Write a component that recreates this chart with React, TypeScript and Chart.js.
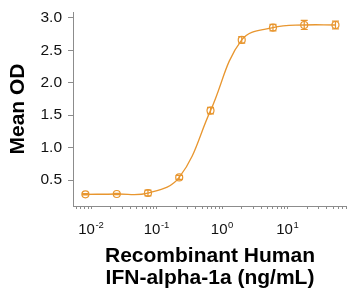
import React, { useEffect, useRef } from 'react';
import { Chart, registerables } from 'chart.js';
Chart.register(...registerables);

const doses = [0.0082, 0.0247, 0.074, 0.222, 0.667, 2, 6, 18, 54];
const meanOD = [0.28, 0.285, 0.30, 0.54, 1.57, 2.66, 2.85, 2.89, 2.89];
const errOD = [0.01, 0.01, 0.045, 0.03, 0.05, 0.05, 0.05, 0.07, 0.06];
const yTicks = [0.5, 1.0, 1.5, 2.0, 2.5, 3.0];
const xMajor = [0.01, 0.1, 1, 10];
const xMajorBase = '10';
const xMajorExp = ['-2', '-1', '0', '1'];
const xDecades = [0.001, 0.01, 0.1, 1, 10];
const xMultiples = [1, 2, 3, 4, 5, 6, 7, 8, 9];

const COLOR = '#E8962F';
const X_MIN = 0.0053;
const X_MAX = 81;
const FONT = 'Liberation Sans';

const errorBarPlugin = {
  id: 'errorBars',
  afterDatasetsDraw(chart: any) {
    const xs = chart.scales.x;
    const ys = chart.scales.y;
    const ctx = chart.ctx;
    ctx.save();
    ctx.strokeStyle = COLOR;
    ctx.lineWidth = 1.2;
    doses.forEach((d, i) => {
      const x = xs.getPixelForValue(d);
      const yt = ys.getPixelForValue(meanOD[i] + errOD[i]);
      const yb = ys.getPixelForValue(meanOD[i] - errOD[i]);
      ctx.beginPath();
      ctx.moveTo(x, yt);
      ctx.lineTo(x, yb);
      ctx.moveTo(x - 3.5, yt);
      ctx.lineTo(x + 3.5, yt);
      ctx.moveTo(x - 3.5, yb);
      ctx.lineTo(x + 3.5, yb);
      ctx.stroke();
    });
    ctx.restore();
  },
};

const powerLabelPlugin = {
  id: 'powerLabels',
  afterDraw(chart: any) {
    const xs = chart.scales.x;
    const ctx = chart.ctx;
    const baseY = chart.chartArea.bottom + 27.5;
    ctx.save();
    ctx.fillStyle = '#111';
    ctx.textBaseline = 'alphabetic';
    ctx.textAlign = 'left';
    xMajor.forEach((v, i) => {
      const px = xs.getPixelForValue(v);
      ctx.font = `15px "${FONT}"`;
      const w1 = ctx.measureText(xMajorBase).width;
      ctx.font = `9.5px "${FONT}"`;
      const w2 = ctx.measureText(xMajorExp[i]).width;
      const start = px - (w1 + w2 + 0.5) / 2;
      ctx.font = `15px "${FONT}"`;
      ctx.fillText(xMajorBase, start, baseY);
      ctx.font = `9.5px "${FONT}"`;
      ctx.fillText(xMajorExp[i], start + w1 + 0.5, baseY - 6);
    });
    ctx.restore();
  },
};

export default function App() {
  const ref = useRef<HTMLCanvasElement>(null);
  useEffect(() => {
    document.body.style.margin = '0';
    const xTickValues: number[] = [];
    xDecades.forEach((d) => xMultiples.forEach((m) => {
      const v = d * m;
      if (v >= X_MIN - 1e-9 && v <= X_MAX) xTickValues.push(v);
    }));
    const chart = new Chart(ref.current!, {
      type: 'line',
      data: {
        datasets: [
          {
            data: doses.map((d, i) => ({ x: d, y: meanOD[i] })),
            borderColor: COLOR,
            borderWidth: 1.3,
            backgroundColor: 'transparent',
            pointBorderColor: COLOR,
            pointBackgroundColor: 'transparent',
            pointBorderWidth: 1.2,
            pointRadius: 3.5,
            tension: 0.4,
            fill: false,
            clip: 8,
          },
        ],
      },
      options: {
        animation: false,
        responsive: false,
        maintainAspectRatio: false,
        layout: { autoPadding: false, padding: { top: 12, right: 0, bottom: 0, left: 0 } },
        plugins: { legend: { display: false }, tooltip: { enabled: false } },
        scales: {
          x: {
            type: 'logarithmic',
            min: X_MIN,
            max: X_MAX,
            afterBuildTicks(scale: any) {
              scale.ticks = xTickValues.map((v) => ({ value: v }));
            },
            afterFit(scale: any) {
              scale.height = 85;
              scale.paddingLeft = 0;
              scale.paddingRight = 0;
            },
            ticks: {
              autoSkip: false,
              maxRotation: 0,
              padding: 3,
              color: '#111',
              font: { family: FONT, size: 15 },
              callback() {
                return '';
              },
            },
            grid: { drawOnChartArea: false, drawTicks: true, tickLength: 3, color: '#8c8c8c' },
            border: { display: true, color: '#8c8c8c', width: 1 },
            title: {
              display: true,
              text: ['Recombinant Human', 'IFN-alpha-1a (ng/mL)'],
              color: '#000',
              font: { family: FONT, size: 21, weight: 'bold', lineHeight: 1.04 },
              padding: { top: 4, bottom: 2 },
            },
          },
          y: {
            type: 'linear',
            min: 0.1,
            max: 3.09,
            afterBuildTicks(scale: any) {
              scale.ticks = yTicks.map((v) => ({ value: v }));
            },
            afterFit(scale: any) {
              scale.width = 73;
              scale.paddingTop = 0;
              scale.paddingBottom = 0;
            },
            ticks: {
              padding: 6,
              color: '#111',
              font: { family: FONT, size: 15.5 },
              callback(value: any) {
                return Number(value).toFixed(1);
              },
            },
            grid: { drawOnChartArea: false, drawTicks: true, tickLength: 5, color: '#8c8c8c' },
            border: { display: true, color: '#8c8c8c', width: 1 },
            title: {
              display: true,
              text: 'Mean OD',
              color: '#000',
              font: { family: FONT, size: 21, weight: 'bold' },
              padding: { top: 6, bottom: 4 },
            },
          },
        },
      },
      plugins: [errorBarPlugin, powerLabelPlugin],
    } as any);
    return () => chart.destroy();
  }, []);
  return (
    <div style={{ width: 347, height: 291 }}>
      <canvas ref={ref} width={347} height={291} style={{ display: 'block' }} />
    </div>
  );
}
